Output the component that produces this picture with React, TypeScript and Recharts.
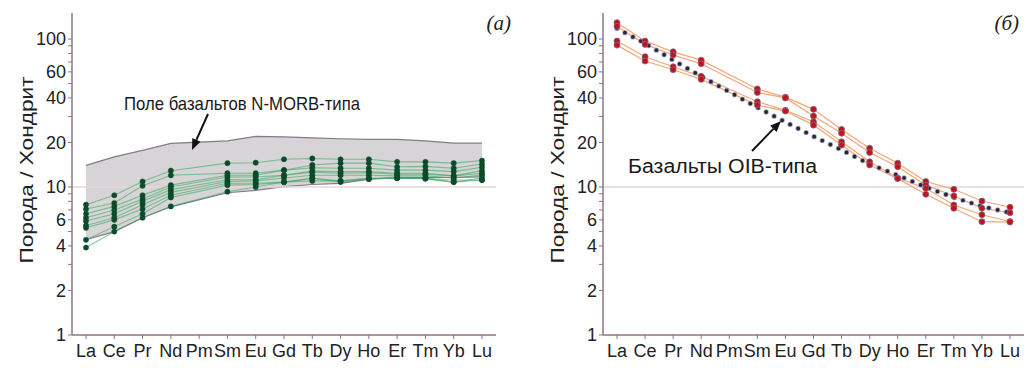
import React from 'react';
import { ComposedChart, Line, Area, XAxis, YAxis, ReferenceLine } from 'recharts';

const ree = ['La', 'Ce', 'Pr', 'Nd', 'Pm', 'Sm', 'Eu', 'Gd', 'Tb', 'Dy', 'Ho', 'Er', 'Tm', 'Yb', 'Lu'];
const yTicks = [1, 2, 3, 4, 5, 6, 7, 8, 9, 10, 20, 30, 40, 50, 60, 70, 80, 90, 100];
const yTickLabels = [1, 2, 4, 6, 10, 20, 40, 60, 100];

// Panel (a): N-MORB field boundaries
const morbFieldHigh = [14, 16, 17.7, 19.7, null, 20.5, 22, 21.8, 21.5, 21.2, 21, 21, 20.5, 19.8, 19.8];
const morbFieldLow = [4.4, 5.0, 6.2, 7.35, null, 9.15, 9.5, 10.05, 10.4, 10.6, 11.3, 11.6, 11.6, 11.6, 11.7];

// Panel (a): samples
const sampleA1 = [7.6, 8.8, 10.9, 12.9, null, 14.5, 14.6, 15.4, 15.6, 15.4, 15.4, 14.8, 14.8, 14.5, 15.1];
const sampleA2 = [7.1, 7.8, 10.2, 12.0, null, 12.4, 12.4, 13.0, 14.1, 14.5, 14.5, 13.7, 13.8, 13.4, 14.3];
const sampleA3 = [6.6, 7.4, 8.8, 10.3, null, 12.0, 12.0, 13.0, 13.5, 13.4, 13.4, 13.0, 13.0, 12.7, 13.6];
const sampleA4 = [6.2, 7.0, 8.3, 10.0, null, 11.7, 11.7, 12.0, 12.8, 12.7, 12.7, 12.4, 12.4, 11.9, 12.9];
const sampleA5 = [5.9, 6.6, 8.0, 9.6, null, 11.2, 11.2, 12.0, 12.6, 12.4, 12.5, 12.2, 12.2, 11.9, 12.4];
const sampleA6 = [5.5, 6.2, 7.6, 9.2, null, 10.9, 11.0, 11.5, 12.0, 12.0, 12.0, 11.9, 11.9, 11.5, 12.05];
const sampleA7 = [5.3, 6.0, 7.1, 8.8, null, 10.6, 10.6, 10.8, 11.45, 11.0, 11.45, 11.45, 11.45, 11.15, 11.15];
const sampleA8 = [4.4, 5.4, 6.6, 8.5, null, 10.3, 10.4, 10.8, 11.45, 10.8, 11.3, 11.5, 11.4, 10.8, 11.15];
const sampleA9 = [3.9, 5.0, 6.2, 7.4, null, 9.3, 10.0, 10.8, 11.0, 11.0, 11.4, 11.5, 11.4, 10.8, 11.5];
const panelASamples = [sampleA1, sampleA2, sampleA3, sampleA4, sampleA5, sampleA6, sampleA7, sampleA8, sampleA9];

// Panel (b): samples
const sampleB1 = [129, 97, 82, 72, null, 46, 40.5, 33.5, 24.5, 18.3, 14.5, 10.9, 9.65, 8.04, 7.3];
const sampleB2 = [122, 92, 78, 68, null, 43.5, 40, 30.2, 23.1, 17.1, 13.7, 10.3, 8.7, 7.2, 6.7];
const sampleB3 = [97, 76, 65, 56, null, 37.7, 33, 27.6, 20.2, 14.8, 11.5, 9.8, 7.56, 6.5, 5.85];
const sampleB4 = [91, 71, 62, 53.4, null, 35.8, 32.6, 26.2, 19.2, 14.1, 11.4, 8.93, 7.18, 5.83, 5.8];
const panelBSamples = [sampleB1, sampleB2, sampleB3, sampleB4];

// Panel (b): OIB reference
const oib = [118, 93.5, 72, 56, 44, 34.5, 27.5, 22, 17.8, 14.3, 12.0, 10.0, 8.5, 7.4, 6.7];

const dataA = ree.map((name, i) => {
  const row: any = {
    name,
    field: morbFieldLow[i] == null ? null : [morbFieldLow[i], morbFieldHigh[i]],
  };
  panelASamples.forEach((s, k) => (row['s' + k] = s[i]));
  return row;
});

const dataB = ree.map((name, i) => {
  const row: any = { name, oib: oib[i] };
  panelBSamples.forEach((s, k) => (row['s' + k] = s[i]));
  return row;
});

const FONT = '"Liberation Sans", Arial, sans-serif';
const AXIS = '#8e7486';
const tickStyle = { fill: '#222', fontSize: 18, fontFamily: FONT };

const yFmt = (v: number) => (yTickLabels.includes(v) ? String(v) : '');

function axesFor() {
  return [
    <XAxis
      key="x"
      dataKey="name"
      interval={0}
      height={33}
      padding={{ left: 14, right: 14 }}
      tick={tickStyle}
      tickSize={4}
      tickMargin={5}
      axisLine={{ stroke: AXIS, strokeWidth: 1.5 }}
      tickLine={{ stroke: AXIS }}
    />,
    <YAxis
      key="y"
      scale="log"
      domain={[1, 150]}
      allowDataOverflow
      ticks={yTicks}
      interval={0}
      width={40}
      tickFormatter={yFmt}
      tick={tickStyle}
      tickSize={4}
      tickMargin={2}
      axisLine={{ stroke: AXIS, strokeWidth: 1.5 }}
      tickLine={{ stroke: AXIS }}
    />,
  ];
}

export default function App() {
  return (
    <div
      style={{
        position: 'absolute',
        left: 0,
        top: 0,
        width: 1027,
        height: 368,
        background: '#fff',
        overflow: 'hidden',
      }}
    >
      <div style={{ position: 'absolute', left: 0, top: 0 }}>
        <ComposedChart width={520} height={368} data={dataA} margin={{ top: 13, right: 24, bottom: 0, left: 32 }}>
          {axesFor()}
          <Area
            dataKey="field"
            type="linear"
            connectNulls
            fill="#d6d4d6"
            fillOpacity={1}
            stroke="#857a85"
            strokeWidth={1.2}
            dot={false}
            activeDot={false}
            isAnimationActive={false}
          />
          <ReferenceLine y={10} stroke="#e4d6dd" strokeWidth={1.5} />
          {panelASamples.map((_, k) => (
            <Line
              key={'la' + k}
              dataKey={'s' + k}
              type="linear"
              connectNulls
              stroke="#3aa860"
              strokeOpacity={0.6}
              strokeWidth={1.1}
              dot={false}
              activeDot={false}
              isAnimationActive={false}
            />
          ))}
          {panelASamples.map((_, k) => (
            <Line
              key={'da' + k}
              dataKey={'s' + k}
              type="linear"
              connectNulls
              stroke="none"
              dot={{ r: 2.6, fill: '#0c4a2a', stroke: '#0c4a2a', strokeWidth: 0.5 }}
              activeDot={false}
              isAnimationActive={false}
            />
          ))}
        </ComposedChart>
      </div>

      <div style={{ position: 'absolute', left: 563, top: 0 }}>
        <ComposedChart width={464} height={368} data={dataB} margin={{ top: 13, right: 3, bottom: 0, left: 0 }}>
          {axesFor()}
          <ReferenceLine y={10} stroke="#e4d6dd" strokeWidth={1.5} />
          {panelBSamples.map((_, k) => (
            <Line
              key={'lb' + k}
              dataKey={'s' + k}
              type="linear"
              connectNulls
              stroke="#f5a679"
              strokeWidth={1.2}
              dot={false}
              activeDot={false}
              isAnimationActive={false}
            />
          ))}
          <Line
            dataKey="oib"
            type="linear"
            stroke="#a9a9bd"
            strokeWidth={5.4}
            strokeDasharray="0 9"
            strokeLinecap="round"
            dot={false}
            activeDot={false}
            isAnimationActive={false}
          />
          <Line
            dataKey="oib"
            type="linear"
            stroke="#26263f"
            strokeWidth={3.8}
            strokeDasharray="0 9"
            strokeLinecap="round"
            dot={false}
            activeDot={false}
            isAnimationActive={false}
          />
          {panelBSamples.map((_, k) => (
            <Line
              key={'db' + k}
              dataKey={'s' + k}
              type="linear"
              connectNulls
              stroke="none"
              dot={{ r: 3, fill: '#c1131d', stroke: '#7d6a86', strokeWidth: 0.8 }}
              activeDot={false}
              isAnimationActive={false}
            />
          ))}
        </ComposedChart>
      </div>

      <svg
        width={1027}
        height={368}
        style={{ position: 'absolute', left: 0, top: 0, pointerEvents: 'none' }}
      >
        <text
          transform="translate(26,170) rotate(-90)"
          textAnchor="middle"
          dominantBaseline="central"
          fontFamily={FONT}
          fontSize={19}
          fill="#222"
          textLength={187}
          lengthAdjust="spacingAndGlyphs"
        >
          Порода / Хондрит
        </text>
        <text
          transform="translate(557,170) rotate(-90)"
          textAnchor="middle"
          dominantBaseline="central"
          fontFamily={FONT}
          fontSize={19}
          fill="#222"
          textLength={187}
          lengthAdjust="spacingAndGlyphs"
        >
          Порода / Хондрит
        </text>
        <text x={511} y={30} textAnchor="end" fontFamily='"Liberation Serif", serif' fontStyle="italic" fontSize={21} fill="#222">
          (а)
        </text>
        <text x={1019} y={30} textAnchor="end" fontFamily='"Liberation Serif", serif' fontStyle="italic" fontSize={21} fill="#222">
          (б)
        </text>
        <text x={124} y={110} fontFamily={FONT} fontSize={19} fill="#1a1a1a" textLength={236} lengthAdjust="spacingAndGlyphs">
          Поле базальтов N-MORB-типа
        </text>
        <line x1={208} y1={114} x2={196.4} y2={139.9} stroke="#111" strokeWidth={2} />
        <polygon points="192,150 200.5,141.7 192.3,138.1" fill="#111" />
        <text x={628} y={173} fontFamily={FONT} fontSize={20} fill="#1a1a1a" textLength={189} lengthAdjust="spacingAndGlyphs">
          Базальты OIB-типа
        </text>
        <line x1={752} y1={151} x2={773.4} y2={128.9} stroke="#111" strokeWidth={2} />
        <polygon points="781,121 776.6,132 770.2,125.8" fill="#111" />
      </svg>
    </div>
  );
}
